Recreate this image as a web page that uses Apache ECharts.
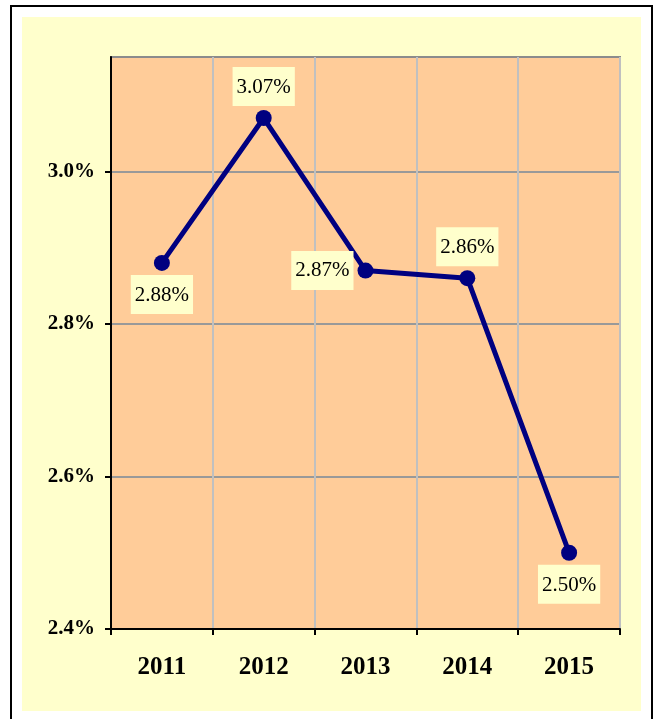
<!DOCTYPE html>
<html>
<head>
<meta charset="UTF-8">
<title>Line chart</title>
<script src="https://cdn.jsdelivr.net/npm/echarts@6/dist/echarts.min.js"></script>
<style>
  html, body { margin: 0; padding: 0; background: #ffffff; }
  #main { width: 657px; height: 719px; }
</style>
</head>
<body>
<div id="main"></div>
<script type="text/javascript">
var years = ['2011', '2012', '2013', '2014', '2015'];
var rates = [2.88, 3.07, 2.87, 2.86, 2.50];
var yTicks = [2.4, 2.6, 2.8, 3.0];
// where each data label sits relative to its point
var labelSide = ['bottom', 'top', 'left', 'top', 'bottom'];

var myChart = echarts.init(document.getElementById('main'));

var seriesData = rates.map(function (v, i) {
    return { value: v, label: { position: labelSide[i] } };
});

var option = {
    backgroundColor: '#ffffff',
    animation: false,
    graphic: [
        {
            type: 'rect', z: -10, silent: true,
            shape: { x: 11, y: 6, width: 641, height: 720 },
            style: { fill: '#ffffff', stroke: '#000000', lineWidth: 2 }
        },
        {
            type: 'rect', z: -9, silent: true,
            shape: { x: 22, y: 17, width: 619, height: 694 },
            style: { fill: '#FFFFCC' }
        }
    ],
    grid: {
        left: 111, top: 57, right: 37, bottom: 90,
        show: true,
        backgroundColor: '#FFCC99',
        borderColor: '#8c8c8c',
        borderWidth: 2
    },
    xAxis: {
        type: 'category',
        data: years,
        boundaryGap: true,
        axisLine: { lineStyle: { color: '#000000', width: 2 } },
        axisTick: { show: true, length: 6, lineStyle: { color: '#000000', width: 2 } },
        axisLabel: {
            margin: 26,
            color: '#000000',
            fontFamily: 'Liberation Serif',
            fontWeight: 'bold',
            fontSize: 25
        },
        splitLine: { show: true, lineStyle: { color: '#c0c0c0', width: 2 } }
    },
    yAxis: {
        type: 'value',
        min: 2.4,
        max: 3.15,
        interval: 0.2,
        axisLine: { show: true, lineStyle: { color: '#000000', width: 2 } },
        axisTick: { show: true, length: 6, customValues: yTicks, lineStyle: { color: '#000000', width: 2 } },
        axisLabel: {
            customValues: yTicks,
            margin: 16,
            color: '#000000',
            fontFamily: 'Liberation Serif',
            fontWeight: 'bold',
            fontSize: 21,
            formatter: function (v) { return v.toFixed(1) + '%'; }
        },
        splitLine: { show: true, lineStyle: { color: '#999999', width: 2 } }
    },
    series: [{
        type: 'line',
        data: seriesData,
        symbol: 'circle',
        symbolSize: 16,
        color: '#000080',
        lineStyle: { color: '#000080', width: 5 },
        itemStyle: { color: '#000080' },
        label: {
            show: true,
            distance: 4,
            color: '#000000',
            fontFamily: 'Liberation Serif',
            fontSize: 21,
            lineHeight: 21,
            backgroundColor: '#FFFFCC',
            padding: [10, 4, 8, 4],
            formatter: function (p) { return p.value.toFixed(2) + '%'; }
        }
    }]
};

myChart.setOption(option, true);
</script>
</body>
</html>
